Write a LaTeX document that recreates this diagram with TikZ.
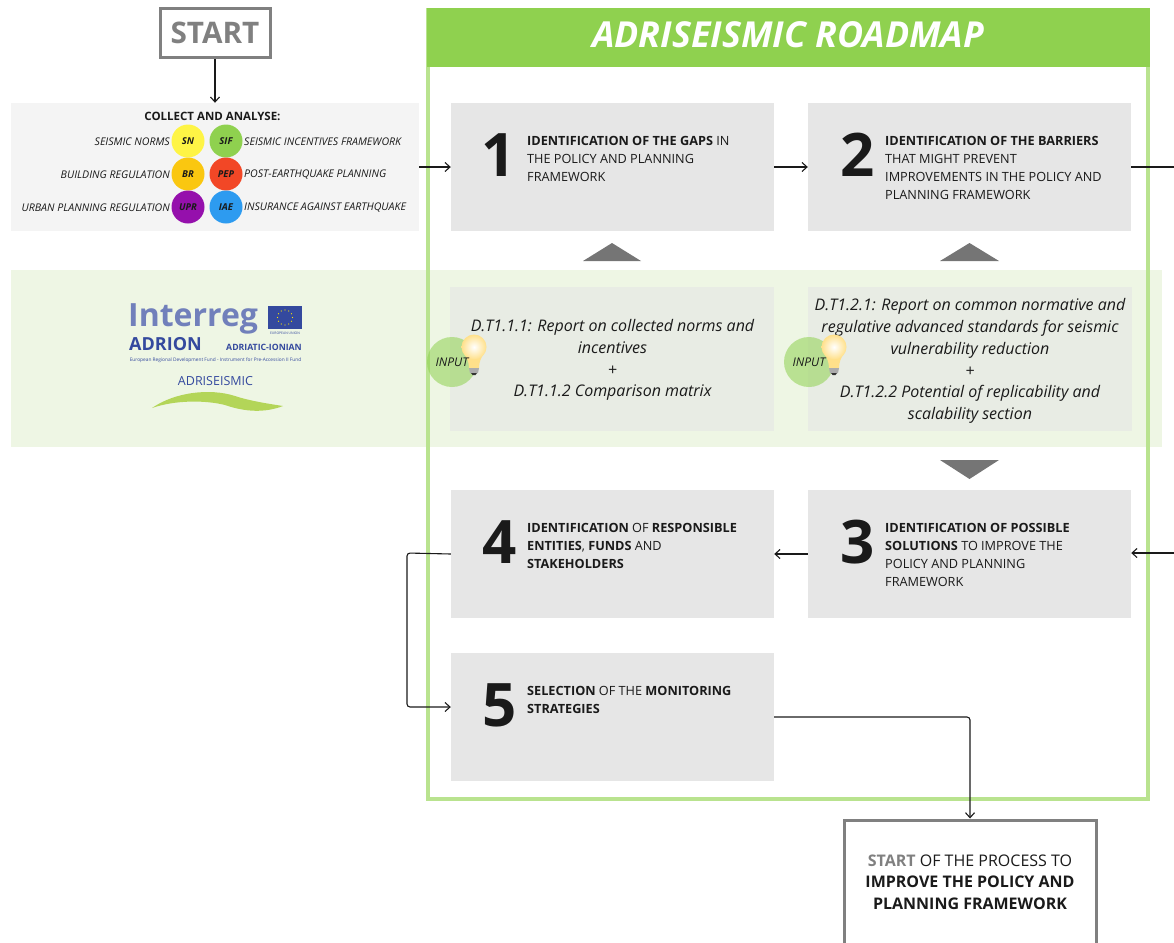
\documentclass[tikz,border=0pt]{standalone}
\usepackage{fontspec}
\setmainfont{Open Sans}
\usetikzlibrary{arrows.meta}
\definecolor{roadgreen}{HTML}{8FD14F}
\definecolor{framegreen}{HTML}{B9E38F}
\definecolor{bandgreen}{HTML}{EEF6E4}
\definecolor{boxgrey}{HTML}{E6E6E6}
\definecolor{delivgrey}{HTML}{E8ECE4}
\definecolor{startgrey}{HTML}{808080}
\definecolor{trigrey}{HTML}{757575}
\definecolor{inkblack}{HTML}{1A1A1A}
\definecolor{logoblue}{HTML}{34499E}
\definecolor{swooshgreen}{HTML}{B3D558}
\definecolor{lampglow}{HTML}{FFE08A}
\newcommand{\fsize}[2]{\fontsize{#1}{#2}\selectfont}

\begin{document}
\begin{tikzpicture}[x=1pt,y=-1pt,
    every node/.style={inner sep=0pt,text=inkblack},
    flow/.style={draw=inkblack,line width=1.1pt,-{Straight Barb[length=5pt,width=9pt]}},
    plain/.style={draw=inkblack,line width=1.1pt},
    stepbox/.style={fill=boxgrey,minimum width=323pt,minimum height=128pt},
    delivbox/.style={fill=delivgrey,minimum width=324pt,minimum height=144pt},
    delivtext/.style={align=center,font=\fsize{16}{21.8}\itshape},
    stepnum/.style={font=\fsize{60}{60}\bfseries,anchor=center},
    steptext/.style={anchor=north west,align=left,font=\fsize{12.7}{18}},
    badge/.style={circle,minimum size=33pt,font=\fsize{9.5}{11}\bfseries\itshape},
    leftlabel/.style={anchor=east,font=\fsize{10.6}{12}\itshape},
    rightlabel/.style={anchor=west,font=\fsize{10.6}{12}\itshape},
    inputdot/.style={circle,fill=roadgreen,fill opacity=.55,minimum size=50pt},
    inputtext/.style={font=\fsize{12}{14}\itshape},
    greybox/.style={draw=startgrey,line width=3pt,fill=white},
    logotext/.style={text=logoblue},
    lamp/.pic={
      \fill[lampglow] (-10.5,5) .. controls (-7,11) and (-5,15) .. (-5,21) -- (5,21) .. controls (5,15) and (7,11) .. (10.5,5) -- cycle;
      \shade[inner color=white,outer color=lampglow] (0,0) circle (12.5);
      \fill[gray!65] (-5,21) -- (5,21) -- (4,26) -- (-4,26) -- cycle;
      \fill[gray!40!black] (-3,26) -- (3,26) -- (1.5,28) -- (-1.5,28) -- cycle;
    }]
    \clip (0,0) rectangle (1174,942);

    % band behind the roadmap
    \node[fill=bandgreen,minimum width=1151pt,minimum height=177pt] (band) at (586.5,358.5) {};
    \node[draw=framegreen,line width=4pt,minimum width=720pt,minimum height=788pt] (frame) at (788,404.5) {};
    \node[fill=roadgreen,minimum width=723pt,minimum height=59pt] (title) at (788.5,37.5) {};
    \node[text=white,font=\fsize{35.8}{40}\bfseries\itshape] (titletext) at (788,35) {ADRISEISMIC ROADMAP};

    % start and collect
    \node[greybox,minimum width=110pt,minimum height=49pt,text=startgrey,font=\fsize{29.7}{32}\bfseries] (start) at (215,33.5) {\raisebox{1pt}{START}};
    \node[fill=black!4.5,minimum width=408pt,minimum height=128pt] (collect) at (215,167) {};
    \node[font=\fsize{11.5}{13}\bfseries] (collecthead) at (212.5,116) {COLLECT AND ANALYSE:};
    \node[badge,fill={rgb,255:red,254;green,244;blue,69}] (sn) at (188,141) {SN};
    \node[badge,fill=roadgreen] (sif) at (226,141) {SIF};
    \node[badge,fill={rgb,255:red,250;green,199;blue,16}] (br) at (188,174) {BR};
    \node[badge,fill={rgb,255:red,242;green,71;blue,38}] (pep) at (226,174) {PEP};
    \node[badge,fill={rgb,255:red,149;green,16;blue,172}] (upr) at (188,207) {UPR};
    \node[badge,fill={rgb,255:red,45;green,155;blue,240}] (iae) at (226,207) {IAE};
    \node[leftlabel] (snlabel) at (170,141.5) {SEISMIC NORMS};
    \node[leftlabel] (brlabel) at (170,174.5) {BUILDING REGULATION};
    \node[leftlabel] (uprlabel) at (170,207.5) {URBAN PLANNING REGULATION};
    \node[rightlabel] (siflabel) at (244,141.5) {SEISMIC INCENTIVES FRAMEWORK};
    \node[rightlabel] (peplabel) at (244,174.5) {POST-EARTHQUAKE PLANNING};
    \node[rightlabel] (iaelabel) at (244,207.5) {INSURANCE AGAINST EARTHQUAKE};

    % steps
    \node[stepbox] (box1) at (612.5,167) {};
    \node[stepbox] (box2) at (969.5,167) {};
    \node[stepbox] (box3) at (969.5,554) {};
    \node[stepbox] (box4) at (612.5,554) {};
    \node[stepbox] (box5) at (612.5,717) {};
    \node[stepnum] (num1) at (499,155) {1};
    \node[stepnum] (num2) at (858,155) {2};
    \node[stepnum] (num3) at (858,542) {3};
    \node[stepnum] (num4) at (500,542) {4};
    \node[stepnum] (num5) at (500,705) {5};
    \node[steptext] (text1) at (527,136) {\textbf{IDENTIFICATION OF THE GAPS} IN\\THE POLICY AND PLANNING\\FRAMEWORK};
    \node[steptext] (text2) at (885,136) {\textbf{IDENTIFICATION OF THE BARRIERS}\\THAT MIGHT PREVENT\\IMPROVEMENTS IN THE POLICY AND\\PLANNING FRAMEWORK};
    \node[steptext] (text3) at (885,523) {\textbf{IDENTIFICATION OF POSSIBLE}\\\textbf{SOLUTIONS} TO IMPROVE THE\\POLICY AND PLANNING\\FRAMEWORK};
    \node[steptext] (text4) at (527,523) {\textbf{IDENTIFICATION} OF \textbf{RESPONSIBLE}\\\textbf{ENTITIES}, \textbf{FUNDS} AND\\\textbf{STAKEHOLDERS}};
    \node[steptext] (text5) at (527,686) {\textbf{SELECTION} OF THE \textbf{MONITORING}\\\textbf{STRATEGIES}};

    % deliverables
    \node[delivbox] (deliv1) at (612,359) {};
    \node[delivbox] (deliv2) at (970,359) {};
    \node[delivtext] (delivtext1) at (612.5,360) {D.T1.1.1: Report on collected norms and\\incentives\\+\\D.T1.1.2 Comparison matrix};
    \node[delivtext] (delivtext2) at (970,361) {D.T1.2.1: Report on common normative and\\regulative advanced standards for seismic\\vulnerability reduction\\+\\D.T1.2.2 Potential of replicability and\\scalability section};
    \fill[trigrey] (583,261) -- (612,243) -- (641,261) -- cycle;
    \fill[trigrey] (940,261) -- (969.5,243) -- (999,261) -- cycle;
    \fill[trigrey] (940,460) -- (969.5,479) -- (999,460) -- cycle;
    \node[inputdot] (dot1) at (452,362) {};
    \node[inputdot] (dot2) at (809,362) {};
    \pic at (474,347) {lamp};
    \pic at (834,347) {lamp};
    \node[inputtext] (input1) at (452,362) {INPUT};
    \node[inputtext] (input2) at (809,362) {INPUT};

    % logo
    \node[logotext,anchor=west,font=\fsize{32}{34}\bfseries] (interreg) at (128,319) {\color{logoblue!70}Interreg};
    \node[fill=logoblue,minimum width=34pt,minimum height=23pt] (flag) at (285,317.5) {};
    \foreach \a in {0,30,...,330}
      \fill[yellow!90!orange] (flag.center) ++(\a:7.5) circle (.7);
    \node[logotext,font=\fsize{3.4}{4}] (eu) at (285,333) {EUROPEAN UNION};
    \node[logotext,anchor=west,font=\fsize{18}{20}\bfseries] (adrion) at (129,344) {ADRION};
    \node[logotext,anchor=east,font=\fsize{8.7}{10}\bfseries] (ionian) at (302,347) {ADRIATIC-IONIAN};
    \node[logotext,font=\fsize{4.8}{5}] (fund) at (215.5,360) {European Regional Development Fund - Instrument for Pre-Accession II Fund};
    \node[logotext,font=\fsize{12.5}{14}] (adriseismic) at (215.5,381) {ADRISEISMIC};
    \fill[swooshgreen] (152,408) .. controls (175,392) and (210,388) .. (235,396)
      .. controls (250,401) and (270,404) .. (283,406) .. controls (265,413) and (245,412) .. (225,405)
      .. controls (205,400) and (175,400) .. (152,408) -- cycle;

    % end of the process
    \node[greybox,minimum width=252pt,minimum height=124pt,align=center,font=\fsize{16}{21.5}] (finish) at (970,882)
      {\textcolor{startgrey}{\textbf{START}} OF THE PROCESS TO\\\textbf{IMPROVE THE POLICY AND}\\\textbf{PLANNING FRAMEWORK}};

    % connectors
    \coordinate (outright) at (1174,167);
    \coordinate (inright) at (1174,553);
    \coordinate (leftturn) at (407,553);
    \draw[flow] (start) -- (start|-collect.north);
    \draw[flow] (collect.east) -- (box1.west);
    \draw[flow] (box1.east) -- (box2.west);
    \draw[plain] (box2.east) -- (outright);
    \draw[flow] (inright) -- (inright-|box3.east);
    \draw[flow] (box3.west) -- (box4.east);
    \draw[flow,rounded corners=3pt] (box4.west) -- (leftturn) |- ([yshift=10pt]box5.west);
    \draw[flow,rounded corners=3pt] (box5.east) -| (finish.north);
\end{tikzpicture}
\end{document}
